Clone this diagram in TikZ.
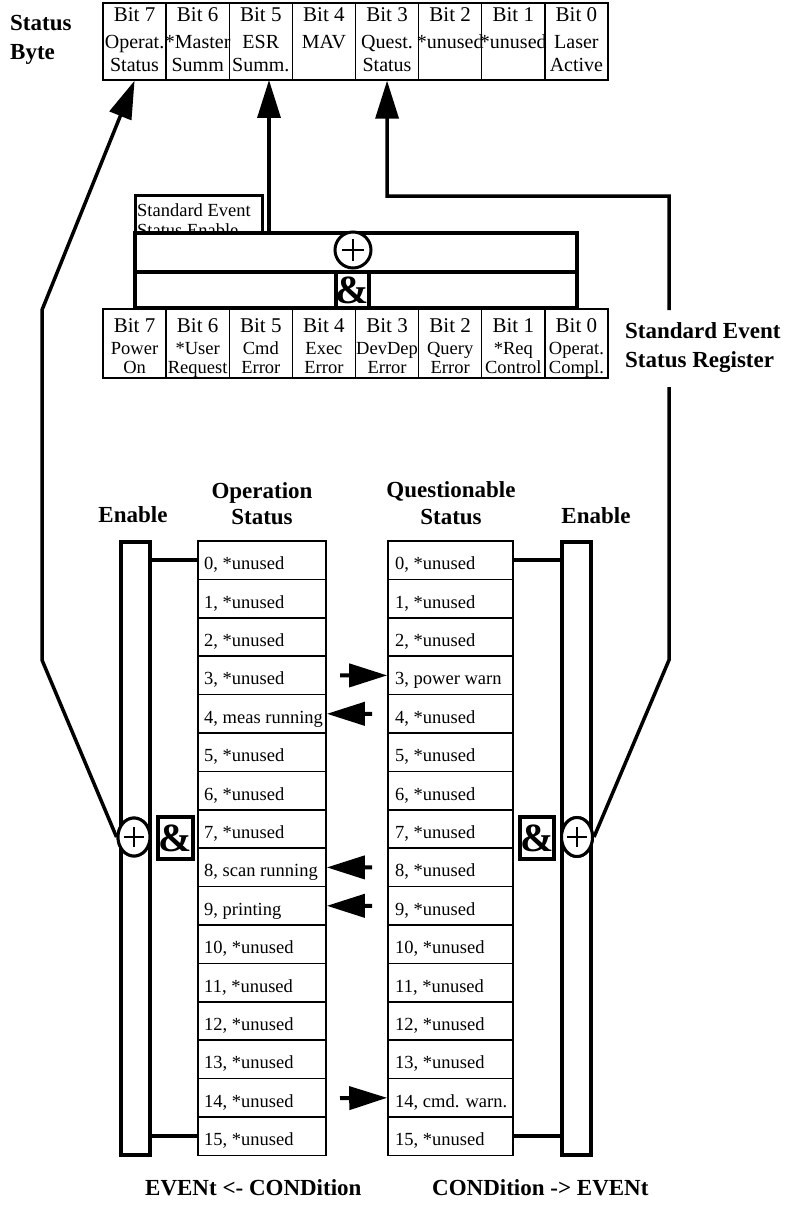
\documentclass[tikz,border=0pt]{standalone}
\usepackage{fontspec}
\setmainfont{Liberation Serif}
\usetikzlibrary{arrows.meta,shapes.geometric}
\begin{document}
\begin{tikzpicture}[x=1pt,y=-1pt,
  sbcell/.style={draw, line width=1.3pt, minimum width=63.125pt, minimum height=77pt, inner sep=0pt},
  esrcell/.style={draw, line width=1.3pt, minimum width=63.125pt, minimum height=69pt, inner sep=0pt},
  bittxt/.style={anchor=base, inner sep=0pt, font=\fontsize{21}{22}\selectfont},
  celltxt/.style={anchor=base, inner sep=0pt, font=\fontsize{20}{22}\selectfont},
  esrtxt/.style={anchor=base, inner sep=0pt, font=\fontsize{18.5}{20}\selectfont},
  boldlbl/.style={inner sep=0pt, font=\bfseries\fontsize{23}{29}\selectfont},
  rowcell/.style={draw, line width=1.6pt, minimum height=38.4pt, inner sep=0pt},
  rowtxt/.style={anchor=base west, inner sep=0pt, font=\fontsize{18.5}{22}\selectfont},
  bar/.style={draw, line width=3.5pt, fill=white, inner sep=0pt},
  heavy/.style={line width=3.5pt},
  bigarrow/.style={line width=3.5pt, -{Triangle[length=38pt,width=23pt]}},
  rowarrow/.style={line width=4pt, -{Triangle[length=38pt,width=23pt]}},
  plusring/.style={ellipse, draw, line width=3pt, fill=white, inner sep=0pt},
  plusline/.style={line width=1.5pt},
  andbox/.style={draw, line width=3.5pt, fill=white, inner sep=0pt, font=\bfseries\fontsize{40}{40}\selectfont},
  lbltxt/.style={anchor=base west, inner sep=0pt, font=\fontsize{18.5}{20}\selectfont}
]
\useasboundingbox (0,0) rectangle (794,1217);

% ---------- Status Byte ----------
\node[boldlbl, anchor=base west] (sbl1) at (10,31) {Status};
\node[boldlbl, anchor=base west] (sbl2) at (10,60) {Byte};
\foreach \k/\b/\la/\lb in {0/7/Operat./Status, 1/6/*Master/Summ, 2/5/ESR/Summ., 3/4/MAV/, 4/3/Quest./Status, 5/2/*unused/, 6/1/*unused/, 7/0/Laser/Active}{
  \pgfmathsetmacro\cx{103+63.125*(\k+0.5)}
  \node[sbcell] (sb\b) at (\cx,41.5) {};
  \node[bittxt] (sbn\b) at (\cx,22) {Bit \b};
  \node[celltxt] (sba\b) at (\cx,49) {\la};
  \node[celltxt] (sbb\b) at (\cx,72) {\lb};
}

% ---------- Standard Event Status Enable ----------
\node[draw, line width=3pt, minimum width=127pt, minimum height=38pt, inner sep=0pt] (eselbl) at (198.5,214) {};
\node[lbltxt] (eset1) at (137,216) {Standard Event};
\node[lbltxt] (eset2) at (137,236) {Status Enable};
\node[bar, minimum width=442pt, minimum height=39pt] (eseor) at (356,252.5) {};
\node[bar, minimum width=442pt, minimum height=36pt] (eseand) at (356,290) {};
\node[plusring, minimum width=36pt, minimum height=36pt] (eseplus) at (353,250) {};
\draw[plusline] (eseplus.center) ++(-11,0) -- ++(22,0);
\draw[plusline] (eseplus.center) ++(0,-11) -- ++(0,22);
\node[andbox, minimum width=33pt, minimum height=36pt] (eseamp) at (352.5,290) {\&};

% ---------- Standard Event Status Register ----------
\foreach \k/\b/\la/\lb in {0/7/Power/On, 1/6/*User/Request, 2/5/Cmd/Error, 3/4/Exec/Error, 4/3/DevDep/Error, 5/2/Query/Error, 6/1/*Req/Control, 7/0/Operat./Compl.}{
  \pgfmathsetmacro\cx{103+63.125*(\k+0.5)}
  \node[esrcell] (esr\b) at (\cx,343.5) {};
  \node[bittxt] (esrn\b) at (\cx,332) {Bit \b};
  \node[esrtxt] (esra\b) at (\cx,354) {\la};
  \node[esrtxt] (esrb\b) at (\cx,373) {\lb};
}
\node[boldlbl, anchor=base west] (esrl1) at (625,338) {Standard Event};
\node[boldlbl, anchor=base west] (esrl2) at (625,367) {Status Register};

% ---------- headers ----------
\node[boldlbl, anchor=base] (hen1) at (133,522) {Enable};
\node[boldlbl, anchor=base] (hop1) at (262,498) {Operation};
\node[boldlbl, anchor=base] (hop2) at (262,524) {Status};
\node[boldlbl, anchor=base] (hq1) at (451,497) {Questionable};
\node[boldlbl, anchor=base] (hq2) at (451,524) {Status};
\node[boldlbl, anchor=base] (hen2) at (596,523) {Enable};

% ---------- register tables ----------
\foreach \i/\t in {0/*unused,1/*unused,2/*unused,3/*unused,4/meas running,5/*unused,6/*unused,7/*unused,8/scan running,9/printing,10/*unused,11/*unused,12/*unused,13/*unused,14/*unused,15/*unused}{
  \pgfmathsetmacro\cy{560.2+38.4*\i}
  \node[rowcell, minimum width=128pt] (op\i) at (262,\cy) {};
  \node[rowtxt] (opt\i) at (204,\cy+9.5) {\i, \t};
}
\foreach \i/\t in {0/*unused,1/*unused,2/*unused,3/power warn,4/*unused,5/*unused,6/*unused,7/*unused,8/*unused,9/*unused,10/*unused,11/*unused,12/*unused,13/*unused,14/cmd. warn.,15/*unused}{
  \pgfmathsetmacro\cy{560.2+38.4*\i}
  \node[rowcell, minimum width=125pt] (q\i) at (450.5,\cy) {};
  \node[rowtxt] (qt\i) at (395,\cy+9.5) {\i, \t};
}

% ---------- enable bars ----------
\node[bar, minimum width=29pt, minimum height=613pt] (len) at (135.5,848.5) {};
\node[bar, minimum width=29pt, minimum height=613pt] (ren) at (576.5,848.5) {};
\draw[heavy] (len.east |- op0.west) -- (op0.west);
\draw[heavy] (len.east |- op15.west) -- (op15.west);
\draw[heavy] (q0.east) -- (ren.west |- q0.east);
\draw[heavy] (q15.east) -- (ren.west |- q15.east);

% ---------- transition arrows ----------
\coordinate (a3) at (340,675.4);
\coordinate (a4) at (372,713.8);
\coordinate (a8) at (372,867.4);
\coordinate (a9) at (372,905.8);
\coordinate (a14) at (340,1098.2);
\draw[rowarrow] (a3) -- (q3.west);
\draw[rowarrow] (a4) -- (op4.east);
\draw[rowarrow] (a8) -- (op8.east);
\draw[rowarrow] (a9) -- (op9.east);
\draw[rowarrow] (a14) -- (q14.west);

% ---------- summary paths ----------
\coordinate (lb1) at (42,660);
\coordinate (lb2) at (42,310);
\coordinate (rb1) at (669,660);
\coordinate (rg1) at (669,387);
\coordinate (rg2) at (669,310);
\coordinate (rb2) at (669,196);
\coordinate (rb3) at (387.06,196);
\coordinate (esrout) at (269,233);
\coordinate (sb5in) at (269,80);

\node[plusring, minimum width=32pt, minimum height=38pt] (lplus) at (134,837) {};
\node[plusring, minimum width=31pt, minimum height=39pt] (rplus) at (577,837) {};
\draw[bigarrow] (lplus.west) -- (lb1) -- (lb2) -- (sb7.south);
\draw[heavy] (rplus.east) -- (rb1) -- (rg1);
\draw[bigarrow] (rg2) -- (rb2) -- (rb3) -- (sb3.south);
\draw[bigarrow] (esrout) -- (sb5in);
\node[plusring, minimum width=32pt, minimum height=38pt] (lplus) at (134,837) {};
\node[plusring, minimum width=31pt, minimum height=39pt] (rplus) at (577,837) {};
\foreach \p in {lplus,rplus}{
  \draw[plusline] (\p.center) ++(-10,0) -- ++(20,0);
  \draw[plusline] (\p.center) ++(0,-10) -- ++(0,20);
}
\node[andbox, minimum width=35pt, minimum height=42pt] (lamp) at (175.5,838) {\&};
\node[andbox, minimum width=34pt, minimum height=42pt] (ramp) at (537,838) {\&};

% ---------- bottom labels ----------
\node[boldlbl, anchor=base west] (bl1) at (145,1195) {EVENt <- CONDition};
\node[boldlbl, anchor=base west] (bl2) at (432,1195) {CONDition -> EVENt};
\end{tikzpicture}
\end{document}
